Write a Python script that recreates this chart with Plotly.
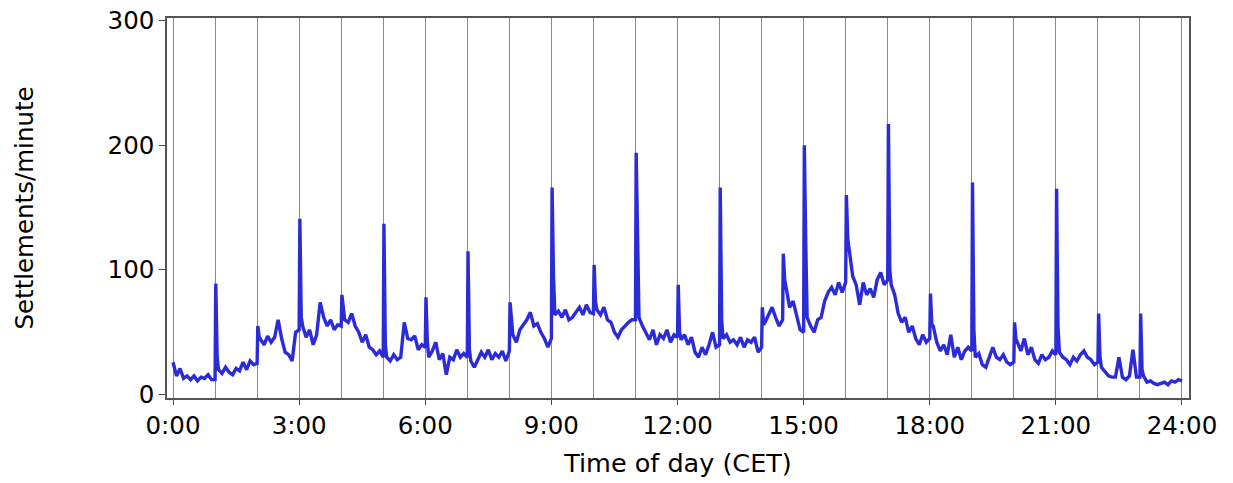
import plotly.graph_objects as go

# Settlement rate sampled every 5 minutes, one row per hour (0:00 .. 23:55), plus 24:00
base_by_hour = [
    [26, 15, 21, 13, 15, 12, 15, 11, 14, 13, 16, 12],
    [12, 20, 17, 22, 18, 16, 21, 19, 26, 20, 27, 24],
    [25, 44, 40, 47, 42, 46, 60, 45, 34, 32, 27, 50],
    [52, 55, 46, 52, 40, 48, 74, 62, 55, 60, 52, 56],
    [55, 60, 58, 65, 55, 50, 42, 48, 38, 36, 32, 35],
    [30, 30, 27, 32, 28, 30, 58, 45, 44, 47, 36, 40],
    [38, 30, 35, 42, 28, 33, 16, 30, 28, 36, 30, 33],
    [30, 27, 22, 28, 34, 30, 36, 28, 33, 30, 35, 27],
    [35, 48, 42, 52, 56, 60, 66, 55, 57, 50, 45, 38],
    [45, 64, 67, 62, 68, 60, 62, 66, 70, 64, 72, 66],
    [65, 68, 64, 70, 60, 58, 50, 46, 52, 55, 58, 60],
    [60, 62, 55, 50, 44, 52, 40, 48, 45, 52, 42, 48],
    [46, 44, 48, 40, 46, 34, 30, 38, 32, 40, 50, 38],
    [40, 45, 48, 42, 44, 40, 46, 38, 44, 42, 46, 34],
    [38, 58, 64, 70, 62, 55, 60, 85, 70, 75, 62, 52],
    [50, 62, 55, 50, 60, 62, 75, 82, 86, 80, 90, 82],
    [90, 115, 95, 88, 72, 90, 80, 85, 78, 92, 98, 88],
    [92, 88, 80, 65, 58, 62, 50, 55, 45, 40, 48, 42],
    [45, 55, 42, 35, 40, 32, 48, 30, 38, 28, 35, 38],
    [35, 30, 33, 24, 22, 30, 38, 30, 28, 32, 26, 24],
    [26, 42, 35, 45, 32, 38, 28, 25, 32, 28, 30, 35],
    [32, 34, 30, 28, 24, 30, 27, 32, 35, 30, 28, 24],
    [26, 22, 18, 15, 14, 14, 30, 14, 12, 15, 36, 14],
    [14, 15, 10, 11, 9, 8, 9, 10, 8, 11, 10, 12],
]
value_at_midnight_end = 11

# Short bursts right after the full hour (minute of day, peak, value two minutes later)
spike_minutes = [60, 120, 180, 240, 300, 360, 420, 480, 540, 600, 660, 720,
                 780, 840, 870, 900, 960, 1020, 1080, 1140, 1200, 1260, 1320, 1380]
spike_peaks = [89, 55, 141, 80, 137, 78, 115, 74, 166, 104, 194, 88,
               166, 70, 113, 200, 160, 217, 81, 170, 58, 165, 65, 65]
spike_after = [30, 46, 62, 68, 40, 42, 36, 58, 95, 74, 110, 50,
               60, 56, 92, 122, 125, 100, 56, 52, 45, 55, 30, 20]

# Assemble the minute-of-day series
points = []
for h, row in enumerate(base_by_hour):
    for k, v in enumerate(row):
        points.append((h * 60 + k * 5, v))
points.append((1440, value_at_midnight_end))
for m, p, a in zip(spike_minutes, spike_peaks, spike_after):
    points.append((m + 1, p))
    points.append((m + 3, a))
points.sort()
minutes = [t for t, _ in points]
rate = [v for _, v in points]

tick_minutes = list(range(0, 1441, 180))
tick_labels = [f"{t // 60}:00" for t in tick_minutes]

font_family = "DejaVu Sans"

fig = go.Figure(
    go.Scatter(
        x=minutes,
        y=rate,
        mode="lines",
        line=dict(color="#2b2bd8", width=3.4),
        hoverinfo="skip",
    )
)

fig.update_layout(
    width=1233,
    height=483,
    margin=dict(l=167, r=44, t=18, b=85),
    paper_bgcolor="white",
    plot_bgcolor="white",
    showlegend=False,
    font=dict(family=font_family, size=24, color="black"),
)

fig.update_xaxes(
    range=[-8.6, 1450],
    automargin=False,
    tickmode="array",
    tickvals=tick_minutes,
    ticktext=tick_labels,
    ticks="outside",
    ticklen=5,
    tickcolor="#444",
    tickfont=dict(size=24.5),
    showgrid=True,
    gridcolor="#8a8a8a",
    gridwidth=1,
    minor=dict(dtick=60, tick0=0, showgrid=True, gridcolor="#8a8a8a", gridwidth=1, ticks=""),
    showline=True,
    linecolor="#555",
    linewidth=1.5,
    mirror=True,
    zeroline=False,
    title=dict(text="Time of day (CET)", font=dict(size=25.5), standoff=15),
)

fig.update_yaxes(
    range=[-2.7, 302],
    automargin=False,
    tickmode="array",
    tickvals=[0, 100, 200, 300],
    ticks="outside",
    ticklen=6,
    tickcolor="#444",
    tickfont=dict(size=24.5),
    showgrid=False,
    showline=True,
    linecolor="#555",
    linewidth=1.5,
    mirror=True,
    zeroline=False,
    title=dict(text="Settlements/minute", font=dict(size=24.5), standoff=67),
)

fig.write_html("out.html")
